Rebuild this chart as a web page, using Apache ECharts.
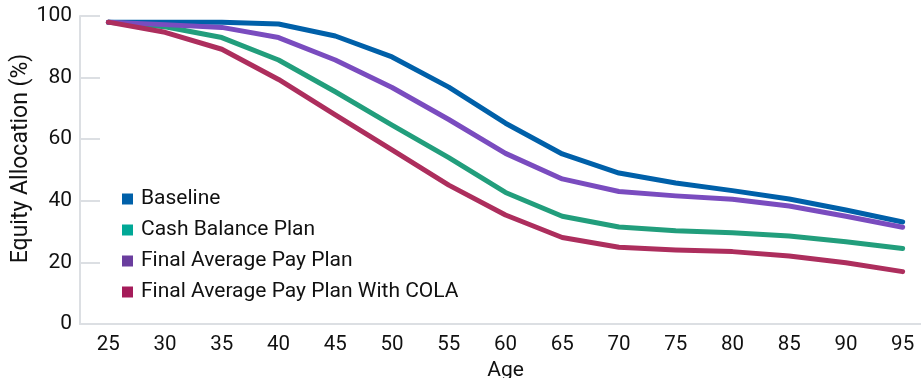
<!DOCTYPE html>
<html>
<head>
<meta charset="utf-8">
<script src="https://cdn.jsdelivr.net/npm/echarts@6/dist/echarts.min.js"></script>
<style>
  html, body { margin: 0; padding: 0; background: #ffffff; }
  #chart { width: 921px; height: 378px; }
</style>
</head>
<body>
<div id="chart"></div>
<script>
// Ages on the horizontal axis
const ages = ['25', '30', '35', '40', '45', '50', '55', '60', '65', '70', '75', '80', '85', '90', '95'];

// Equity allocation (%) by age for each plan type
const baseline        = [98, 98, 98, 97.4, 93.5, 86.7, 76.9, 65.2, 55.2, 49, 45.8, 43.3, 40.6, 37, 33.1];
const cashBalance     = [98, 96.5, 93, 85.7, 75.4, 64.6, 54, 42.7, 35, 31.5, 30.3, 29.6, 28.6, 26.7, 24.5];
const finalAvgPay     = [98, 97.2, 96.3, 93, 85.7, 76.8, 66.4, 55.4, 47.1, 43, 41.6, 40.5, 38.3, 35, 31.4];
const finalAvgPayCola = [98, 94.7, 89.2, 79.4, 67.9, 56.5, 45.1, 35.4, 28.1, 24.9, 24, 23.5, 22.1, 19.9, 17];

const yTicks = { min: 0, max: 100, interval: 20 };

const seriesDefs = [
  { name: 'Baseline', data: baseline, line: '#0060a9', swatch: '#0060a9' },
  { name: 'Cash Balance Plan', data: cashBalance, line: '#229e7c', swatch: '#00a896' },
  { name: 'Final Average Pay Plan', data: finalAvgPay, line: '#7a4cbf', swatch: '#6a3d9e' },
  { name: 'Final Average Pay Plan With COLA', data: finalAvgPayCola, line: '#ad2e5d', swatch: '#a51c5a' }
];

const font = 'Roboto, "Noto Sans", sans-serif';
const ink = '#111111';
const axisGrey = '#dcdfe3';

const chart = echarts.init(document.getElementById('chart'), null, { renderer: 'canvas' });

chart.setOption({
  animation: false,
  backgroundColor: '#ffffff',
  textStyle: { fontFamily: font, color: ink },
  grid: { left: 80, top: 16, bottom: 54, width: 851, containLabel: false, outerBoundsMode: 'none' },
  legend: {
    orient: 'vertical',
    left: 122,
    top: 188.5,
    padding: 0,
    icon: 'rect',
    itemWidth: 11,
    itemHeight: 11,
    itemGap: 10,
    textStyle: { fontFamily: font, fontSize: 21, lineHeight: 21, color: ink, padding: [0, 0, 0, 3] },
    data: seriesDefs.map(s => ({ name: s.name, itemStyle: { color: s.swatch } }))
  },
  xAxis: {
    type: 'category',
    data: ages,
    boundaryGap: true,
    name: 'Age',
    nameLocation: 'middle',
    nameGap: 35,
    nameTextStyle: { fontFamily: font, fontSize: 21, color: ink },
    axisLine: { lineStyle: { color: axisGrey, width: 2 } },
    axisTick: { show: false },
    axisLabel: { fontFamily: font, fontSize: 20.5, color: ink, margin: 10 },
    splitLine: { show: false }
  },
  yAxis: {
    type: 'value',
    min: yTicks.min,
    max: yTicks.max,
    interval: yTicks.interval,
    name: 'Equity Allocation (%)',
    nameLocation: 'middle',
    nameGap: 47,
    nameMoveOverlap: false,
    nameRotate: 90,
    nameTextStyle: { fontFamily: font, fontSize: 23, color: ink, padding: [0, 0, 0, 23] },
    axisLine: { show: true, lineStyle: { color: axisGrey, width: 2 } },
    axisTick: { show: true, inside: true, length: 20, lineStyle: { color: axisGrey, width: 2 } },
    axisLabel: { fontFamily: font, fontSize: 21, color: ink, margin: 8 },
    splitLine: { show: false }
  },
  series: seriesDefs.map(s => ({
    name: s.name,
    type: 'line',
    data: s.data,
    showSymbol: false,
    symbol: 'none',
    smooth: false,
    color: s.line,
    lineStyle: { color: s.line, width: 5, cap: 'round', join: 'round' },
    emphasis: { disabled: true }
  }))
});
</script>
</body>
</html>
